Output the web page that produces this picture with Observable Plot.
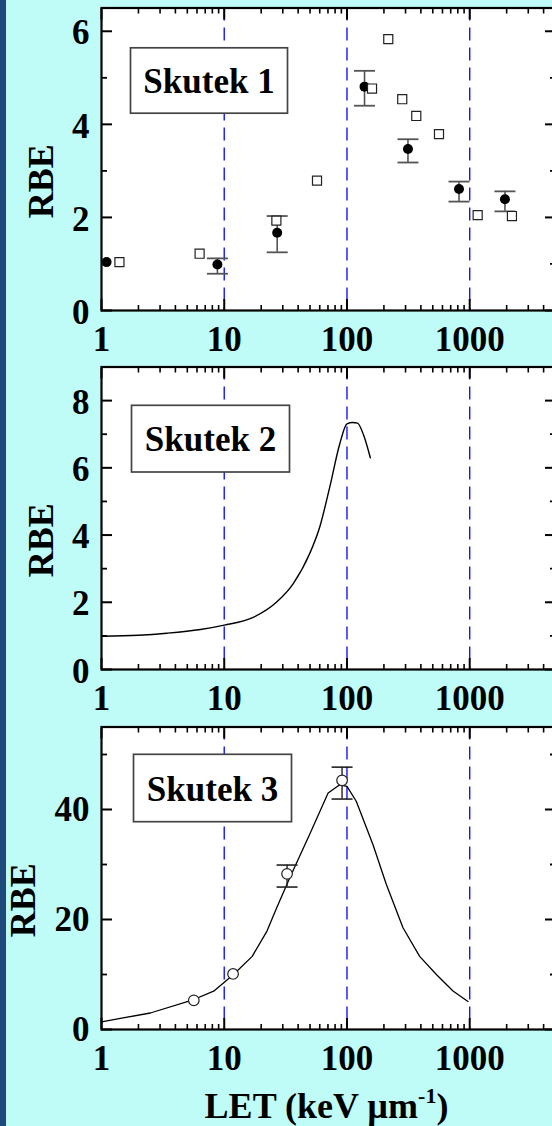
<!DOCTYPE html>
<html><head><meta charset="utf-8">
<script src="https://cdn.jsdelivr.net/npm/d3@7"></script>
<script src="https://cdn.jsdelivr.net/npm/@observablehq/plot@0.6"></script>
<style>
html,body{margin:0;padding:0;overflow:hidden;background:#bffcf7;}
#wrap{position:relative;width:552px;height:1126px;overflow:hidden;background:#bffcf7;}
#stripe{position:absolute;left:0;top:0;width:6px;height:1126px;background:#1f4a7c;}
.panel{position:absolute;left:0;}
</style></head><body><div id="wrap"><div id="stripe"></div></div>
<script>
// ---------- data ----------
// Panel 1 (Skutek 1): filled circles with error bars, open squares
const p1CircleLET = [1.1, 8.8, 27, 139, 314, 818, 1937];
const p1CircleRBE = [1.04, 0.99, 1.67, 4.81, 3.47, 2.61, 2.39];
const p1ErrLow    = [null, 0.79, 1.25, 4.40, 3.18, 2.34, 2.13];
const p1ErrHigh   = [null, 1.12, 2.03, 5.15, 3.68, 2.77, 2.56];
const p1SquareLET = [1.4, 6.3, 26.6, 57, 160, 217, 282, 367, 562, 1161, 2208];
const p1SquareRBE = [1.04, 1.22, 1.93, 2.79, 4.77, 5.83, 4.54, 4.18, 3.79, 2.05, 2.03];
// Panel 2 (Skutek 2): curve
const p2CurveLET = [1, 2, 3.4, 6.4, 10, 17.4, 26.6, 36.4, 49.7, 60, 72.3, 87.3, 100, 111, 122, 137, 155];
const p2CurveRBE = [0.99, 1.02, 1.08, 1.19, 1.32, 1.56, 2.0, 2.55, 3.45, 4.24, 5.42, 6.71, 7.31, 7.35, 7.33, 6.96, 6.30];
// Panel 3 (Skutek 3): curve + open circles with error bars
const p3CurveLET = [1, 1.5, 2.5, 5.65, 8.2, 11.9, 16.9, 22.3, 26.6, 34.2, 49.7, 70.2, 87.3, 100, 119, 163, 209, 286, 391, 535, 731, 968];
const p3CurveRBE = [1.4, 2.1, 3.0, 5.45, 6.96, 10.0, 13.3, 17.9, 22.0, 27.6, 35.5, 43.0, 44.5, 44.2, 41.5, 33.6, 26.4, 18.5, 13.3, 10.0, 7.0, 5.1];
const p3PointLET = [5.65, 11.8, 32.5, 91.2];
const p3PointRBE = [5.3, 10.1, 28.3, 45.3];
const p3ErrLow   = [null, null, 25.9, 41.9];
const p3ErrHigh  = [null, null, 29.9, 47.7];
// shared
const referenceLET = [10, 100, 1000];
const xTickLabels = [1, 10, 100, 1000];
const xMinorTicks = [2, 3, 4, 5, 6, 7, 8, 9, 20, 30, 40, 50, 60, 70, 80, 90, 200, 300, 400, 500, 600, 700, 800, 900, 2000, 3000, 4000];
const panelTitles = ["Skutek 1", "Skutek 2", "Skutek 3"];
const yTitle = "RBE";
const xTitleMain = "LET (keV µm";
const xTitleSup = "-1";
const xTitleEnd = ")";

// ---------- helpers ----------
const zip2 = (xs, ys) => xs.map((x, i) => ({x, y: ys[i]}));
const zipErr = (xs, lo, hi) => xs.map((x, i) => ({x, lo: lo[i], hi: hi[i]})).filter(d => d.lo != null);
const cap = {draw(ctx) { ctx.moveTo(-10.5, 0); ctx.lineTo(10.5, 0); }};
const FONT = {fontFamily: "Liberation Serif", fontWeight: "bold"};
const W = 600, H = 360, ML = 101, MR = 45, MT = 7.5, MB = 50;
const FW = W - ML - MR, FH = H - MT - MB;

function baseMarks(cfg) {
  const tk = {fill: "none", label: null, stroke: "black"};
  return [
    Plot.frame({fill: "white", stroke: "none"}),
    Plot.ruleX(referenceLET, {stroke: "#1515ff", strokeWidth: 1.4, strokeDasharray: "13,7"}),
    Plot.axisX({anchor: "bottom", ticks: xTickLabels, tickSize: -11, strokeWidth: 2, ...tk}),
    Plot.axisX({anchor: "bottom", ticks: xMinorTicks, tickSize: -5, strokeWidth: 1.6, ...tk}),
    Plot.axisX({anchor: "top", ticks: xTickLabels, tickSize: -11, strokeWidth: 2, ...tk}),
    Plot.axisX({anchor: "top", ticks: xMinorTicks, tickSize: -5, strokeWidth: 1.6, ...tk}),
    Plot.axisY({anchor: "left", ticks: cfg.yMajor, tickSize: -11, strokeWidth: 2, ...tk}),
    Plot.axisY({anchor: "left", ticks: cfg.yMinor, tickSize: -6, strokeWidth: 1.8, ...tk}),
    Plot.axisY({anchor: "right", ticks: cfg.yMajor, tickSize: -11, strokeWidth: 2, ...tk}),
    Plot.axisY({anchor: "right", ticks: cfg.yMinor, tickSize: -6, strokeWidth: 1.8, ...tk}),
    Plot.axisX({anchor: "bottom", ticks: xTickLabels, tickSize: 0, tickPadding: 16, tickFormat: d => String(d),
      fontSize: 35, ...FONT, fill: "black", label: null}),
    Plot.axisY({anchor: "left", ticks: cfg.yMajor, tickSize: 0, tickPadding: 12, tickFormat: d => String(d),
      fontSize: 35, ...FONT, fill: "black", label: null, dy: cfg.yLabelDy}),
    Plot.frame({stroke: "black", strokeWidth: 2.2}),
    Plot.frame({fill: "white", stroke: "#444", strokeWidth: 1.7,
      insetLeft: cfg.box[0], insetTop: cfg.box[1], insetRight: FW - cfg.box[0] - cfg.box[2], insetBottom: FH - cfg.box[1] - cfg.box[3]}),
    Plot.text([cfg.title], {text: d => d, frameAnchor: "top-left", dx: cfg.box[0] + cfg.box[2] / 2, dy: cfg.box[1] + cfg.box[3] / 2 + 1.5,
      textAnchor: "middle", lineAnchor: "middle", fontSize: 35, ...FONT, fill: "black"}),
    Plot.text([yTitle], {text: d => d, frameAnchor: "left", rotate: -90, dx: cfg.rbeDx, dy: 22,
      textAnchor: "middle", lineAnchor: "middle", fontSize: 36, ...FONT, fill: "black"})
  ];
}

function makePanel(cfg, dataMarks) {
  const base = baseMarks(cfg);
  const svg = Plot.plot({
    width: W, height: H, marginLeft: ML, marginRight: MR, marginTop: MT, marginBottom: MB,
    style: {background: "transparent", maxWidth: "none", overflow: "visible"},
    x: {type: "log", domain: [1, 5000]},
    y: {domain: cfg.yDomain},
    marks: [...base.slice(0, 2), ...dataMarks, ...base.slice(2)]
  });
  svg.classList.add("panel");
  svg.style.top = cfg.top + "px";
  document.getElementById("wrap").appendChild(svg);
  return svg;
}

// Panel 1
const p1Err = zipErr(p1CircleLET, p1ErrLow, p1ErrHigh);
makePanel({top: 0, yDomain: [0, 6.5], yMajor: [0, 2, 4, 6], yMinor: [1, 3, 5], title: panelTitles[0],
  box: [29, 39.8, 157, 65.4], rbeDx: -60, yLabelDy: 2}, [
  Plot.ruleX(p1Err, {x: "x", y1: "lo", y2: "hi", stroke: "#555", strokeWidth: 1.6}),
  Plot.dot(p1Err, {x: "x", y: "lo", symbol: cap, stroke: "#555", strokeWidth: 1.8}),
  Plot.dot(p1Err, {x: "x", y: "hi", symbol: cap, stroke: "#555", strokeWidth: 1.8}),
  Plot.dot(zip2(p1CircleLET, p1CircleRBE), {x: "x", y: "y", r: 5, fill: "black", stroke: "none"}),
  Plot.dot(zip2(p1SquareLET, p1SquareRBE), {x: "x", y: "y", symbol: "square", r: 5.1, fill: "white", stroke: "#222", strokeWidth: 1.2})
]);

// Panel 2
makePanel({top: 359.2, yDomain: [0, 9], yMajor: [0, 2, 4, 6, 8], yMinor: [1, 3, 5, 7], title: panelTitles[1],
  box: [30, 38.3, 158, 66.7], rbeDx: -60, yLabelDy: 2}, [
  Plot.line(zip2(p2CurveLET, p2CurveRBE), {x: "x", y: "y", stroke: "black", strokeWidth: 1.4, curve: "monotone-x"})
]);

// Panel 3
const p3Err = zipErr(p3PointLET, p3ErrLow, p3ErrHigh);
makePanel({top: 718.5, yDomain: [0, 55], yMajor: [0, 20, 40], yMinor: [10, 30, 50], title: panelTitles[2],
  box: [32, 27.3, 158, 67.4], rbeDx: -77.7, yLabelDy: 0}, [
  Plot.line(zip2(p3CurveLET, p3CurveRBE), {x: "x", y: "y", stroke: "black", strokeWidth: 1.3}),
  Plot.ruleX(p3Err, {x: "x", y1: "lo", y2: "hi", stroke: "#222", strokeWidth: 1.4}),
  Plot.dot(p3Err, {x: "x", y: "lo", symbol: cap, stroke: "#222", strokeWidth: 1.6}),
  Plot.dot(p3Err, {x: "x", y: "hi", symbol: cap, stroke: "#222", strokeWidth: 1.6}),
  Plot.dot(zip2(p3PointLET, p3PointRBE), {x: "x", y: "y", r: 5.3, fill: "white", stroke: "#222", strokeWidth: 1.2})
]);

// X-axis title (below the last panel)
const tsvg = d3.select("#wrap").append("svg").attr("class", "panel")
  .attr("width", 552).attr("height", 56).style("top", "1070px").style("overflow", "visible");
const tt = tsvg.append("text").attr("x", 326.5).attr("y", 48).attr("text-anchor", "middle")
  .attr("font-family", "Liberation Serif").attr("font-weight", "bold").attr("font-size", 36).attr("fill", "black");
tt.append("tspan").text(xTitleMain);
tt.append("tspan").attr("font-size", 22).attr("dy", -15).text(xTitleSup);
tt.append("tspan").attr("dy", 15).text(xTitleEnd);
</script></body></html>
